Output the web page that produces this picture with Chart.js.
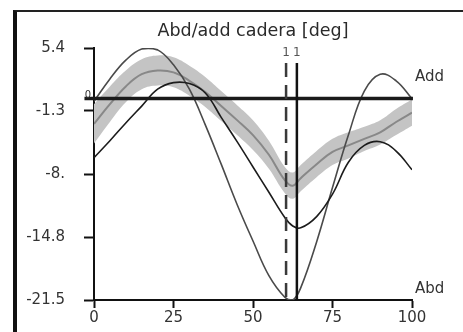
<!DOCTYPE html>
<html>
<head>
<meta charset="utf-8">
<script src="https://cdn.jsdelivr.net/npm/chart.js@4.4.0/dist/chart.umd.min.js"></script>
<style>
  html, body { margin: 0; padding: 0; background: #fff; }
  #wrap { position: relative; width: 463px; height: 332px; overflow: hidden; }
  #frame { position: absolute; left: 13px; top: 10px; width: 600px; height: 400px;
           border-left: 4px solid #111; border-top: 2px solid #222; pointer-events: none; }
</style>
</head>
<body>
<div id="wrap">
  <canvas id="hipChart" width="463" height="332"></canvas>
  <div id="frame"></div>
</div>
<script>
// % of gait cycle
const cycle = [0, 5, 10, 15, 20, 25, 30, 35, 40, 45, 50, 55, 60, 62.5, 65, 70, 75, 80, 85, 90, 95, 100];
// normative band: mean and standard deviation
const refMean = [-2.7, -0.6, 1.3, 2.6, 3.0, 2.8, 1.9, 0.7, -0.8, -2.3, -3.9, -6.0, -8.7, -9.3, -8.5, -7.0, -5.7, -5.0, -4.3, -3.6, -2.5, -1.5];
const refSd = [2.1, 1.9, 1.7, 1.6, 1.6, 1.6, 1.6, 1.6, 1.6, 1.6, 1.6, 1.5, 1.4, 1.4, 1.4, 1.4, 1.4, 1.4, 1.3, 1.3, 1.4, 1.4];
// patient curves
const sideA = [-0.3, 2.1, 4.1, 5.3, 5.2, 3.6, 1.0, -2.8, -7.0, -11.3, -15.2, -18.9, -21.2, -21.5, -20.2, -15.3, -9.5, -3.9, 0.8, 2.6, 1.9, 0.0];
const sideB = [-6.3, -4.5, -2.6, -0.8, 1.0, 1.7, 1.6, 0.6, -2.0, -4.6, -7.3, -10.0, -12.7, -13.6, -13.8, -12.6, -10.2, -6.8, -5.0, -4.6, -5.6, -7.6];
// toe-off events
const eventX = [60.4, 63.8];
const eventTop = 3.8;
const eventLabels = ['1', '1'];
const yTickValues = [5.4, -1.325, -8.05, -14.775, -21.5];
const yTickLabels = ['5.4', '-1.3', '-8.', '-14.8', '-21.5'];
const sideLabels = ['Add', 'Abd'];
const sideLabelY = [2.3, -20.3];

const pts = arr => cycle.map((x, i) => ({ x: x, y: arr[i] }));
const lower = refMean.map((m, i) => m - refSd[i]);
const upper = refMean.map((m, i) => m + refSd[i]);

Chart.defaults.font.family = '"DejaVu Sans", sans-serif';
Chart.defaults.color = '#333';

const textPlugin = {
  id: 'extraText',
  afterDatasetsDraw(chart) {
    const { ctx, chartArea, scales: { x, y } } = chart;
    ctx.save();
    ctx.fillStyle = '#333';
    ctx.textBaseline = 'middle';

    ctx.font = '15px "DejaVu Sans"';
    ctx.textAlign = 'left';
    sideLabels.forEach((t, i) => ctx.fillText(t, chartArea.right + 3, y.getPixelForValue(sideLabelY[i])));

    ctx.font = '12px "DejaVu Sans"';
    ctx.textAlign = 'center';
    ctx.fillStyle = '#555';
    eventX.forEach((v, i) => ctx.fillText(eventLabels[i], x.getPixelForValue(v), y.getPixelForValue(eventTop) - 10));

    ctx.font = '10px "DejaVu Sans"';
    ctx.fillStyle = '#333';
    ctx.fillText('0', x.getPixelForValue(0) - 6, y.getPixelForValue(0) - 3);
    ctx.restore();
  }
};

new Chart(document.getElementById('hipChart'), {
  type: 'line',
  data: {
    datasets: [
      { data: pts(lower), borderWidth: 0, pointRadius: 0, fill: false, order: 10 },
      { data: pts(upper), borderWidth: 0, pointRadius: 0, fill: '-1', backgroundColor: '#c4c4c4', order: 9 },
      { data: pts(refMean), borderColor: '#888', borderWidth: 2, pointRadius: 0, order: 8 },
      { data: pts(sideA), borderColor: '#4a4a4a', borderWidth: 1.6, pointRadius: 0, order: 6 },
      { data: pts(sideB), borderColor: '#1c1c1c', borderWidth: 1.6, pointRadius: 0, order: 5 },
      { data: [{ x: -3, y: 0 }, { x: 100.3, y: 0 }], borderColor: '#1a1a1a', borderWidth: 3.5, pointRadius: 0, tension: 0, clip: false, order: 3 },
      { data: [{ x: eventX[0], y: eventTop }, { x: eventX[0], y: -21.5 }], borderColor: '#3a3a3a', borderWidth: 2.5, borderDash: [14, 8], pointRadius: 0, tension: 0, order: 2 },
      { data: [{ x: eventX[1], y: eventTop }, { x: eventX[1], y: -21.5 }], borderColor: '#111', borderWidth: 2.5, pointRadius: 0, tension: 0, order: 1 }
    ]
  },
  options: {
    responsive: false,
    animation: false,
    layout: { padding: { right: 51 } },
    elements: { line: { tension: 0.4 } },
    plugins: {
      legend: { display: false },
      tooltip: { enabled: false },
      title: {
        display: true,
        text: 'Abd/add cadera [deg]',
        fullSize: false,
        color: '#2a2a2a',
        font: { size: 17.5, weight: 'normal' },
        padding: { top: 21, bottom: 6 }
      }
    },
    scales: {
      x: {
        type: 'linear', min: 0, max: 100,
        afterFit: s => { s.height = 32; },
        ticks: { stepSize: 25, padding: 1, maxRotation: 0, color: '#333', font: { size: 15 } },
        grid: { drawOnChartArea: false, tickLength: 8, tickWidth: 2, tickColor: '#111' },
        border: { color: '#111', width: 2 }
      },
      y: {
        min: -21.5, max: 5.4,
        afterFit: s => { s.width = 94; },
        afterBuildTicks: s => { s.ticks = yTickValues.map(v => ({ value: v })); },
        ticks: { padding: 19, color: '#333', font: { size: 15 }, callback: (v, i) => yTickLabels[i] },
        grid: { drawOnChartArea: false, tickLength: 10, tickWidth: 2, tickColor: '#111' },
        border: { color: '#111', width: 2 }
      }
    }
  },
  plugins: [textPlugin]
});
</script>
</body>
</html>
